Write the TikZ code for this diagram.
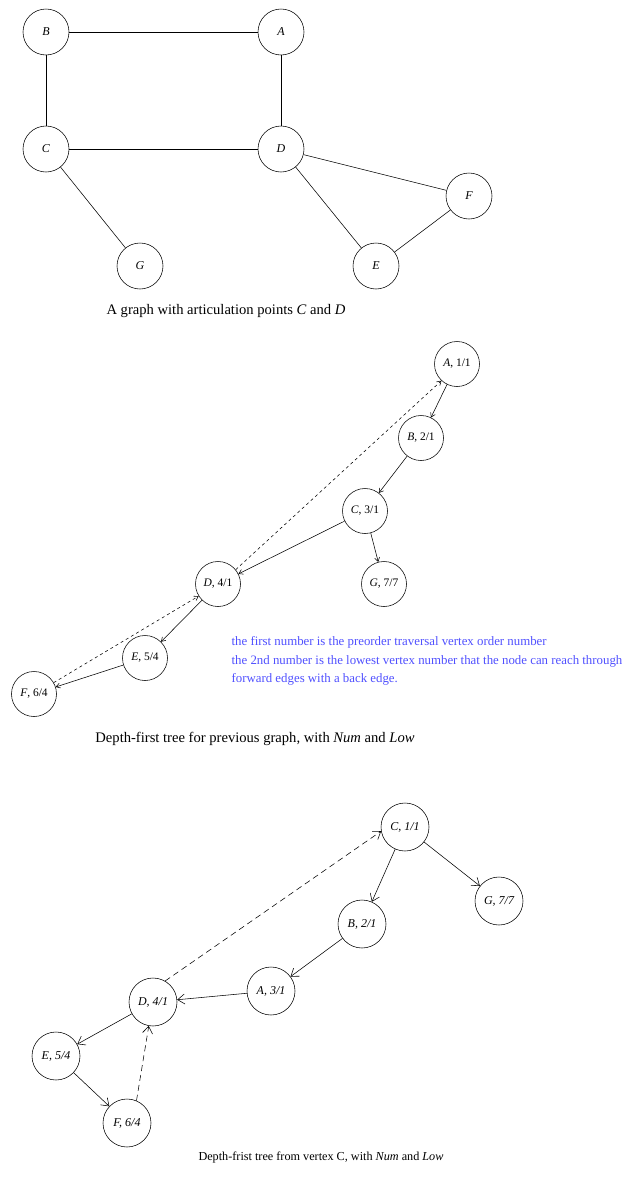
\documentclass[tikz,border=0pt]{standalone}
\usepackage{fontspec}
\setmainfont{Liberation Serif}
\usepackage{xcolor}
\usetikzlibrary{arrows.meta,positioning}

\definecolor{notecolor}{RGB}{80,80,255}

\tikzset{
  vertex/.style={draw, circle, minimum size=46pt, inner sep=0pt, font=\fontsize{12}{14}\selectfont\itshape},
  numlow/.style={draw, circle, minimum size=45pt, inner sep=0pt, font=\fontsize{11.5}{13}\selectfont},
  numlowc/.style={draw, circle, minimum size=48pt, inner sep=0pt, font=\fontsize{12}{14}\selectfont\itshape},
  treeedge/.style={-{Straight Barb[length=4pt,width=5pt]}},
  backedge/.style={treeedge, dashed},
  treeedgec/.style={-{Straight Barb[length=7pt,width=10pt]}},
  backedgec/.style={treeedgec, dash pattern=on 6pt off 4pt},
  caption/.style={font=\fontsize{14.6}{17}\selectfont},
}

\begin{document}
\begin{tikzpicture}[x=1pt, y=-1pt, line width=0.55pt]
\useasboundingbox (0,0) rectangle (628,1181);

% The graph
\node[vertex] (B1) at (46,32) {B};
\node[vertex] (A1) at (281,32) {A};
\node[vertex] (C1) at (46,149) {C};
\node[vertex] (D1) at (281,149) {D};
\node[vertex] (F1) at (469,196) {F};
\node[vertex] (G1) at (140,266) {G};
\node[vertex] (E1) at (376,266) {E};

\draw (B1) -- (A1);
\draw (B1) -- (C1);
\draw (A1) -- (D1);
\draw (C1) -- (D1);
\draw (C1) -- (G1);
\draw (D1) -- (F1);
\draw (D1) -- (E1);
\draw (E1) -- (F1);

\node[caption] (cap1) at (226,311) {A graph with articulation points \textit{C} and \textit{D}};

% Depth-first tree from A
\node[numlow] (A2) at (457,364) {\textit{A}, 1/1};
\node[numlow] (B2) at (421,438) {\textit{B}, 2/1};
\node[numlow] (C2) at (365,511) {\textit{C}, 3/1};
\node[numlow] (D2) at (218,584) {\textit{D}, 4/1};
\node[numlow] (G2) at (384,584) {\textit{G}, 7/7};
\node[numlow] (E2) at (145,658) {\textit{E}, 5/4};
\node[numlow] (F2) at (34,694) {\textit{F}, 6/4};

\draw[treeedge] (A2) -- (B2);
\draw[treeedge] (B2) -- (C2);
\draw[treeedge] (C2) -- (D2);
\draw[treeedge] (C2) -- (G2);
\draw[treeedge] (D2) -- (E2);
\draw[treeedge] (E2) -- (F2);
\draw[backedge] (D2.39) -- (A2.227);
\draw[backedge] (F2.30) -- (D2.212);

\node[anchor=west, align=left, text=notecolor, font=\fontsize{12.85}{18.5}\selectfont] (note) at (228,661)
  {the first number is the preorder traversal vertex order number\\
   the 2nd number is the lowest vertex number that the node can reach through\\
   forward edges with a back edge.};

\node[caption] (cap2) at (255,739) {Depth-first tree for previous graph, with \textit{Num} and \textit{Low}};

% Depth-first tree from C
\node[numlowc] (C3) at (405,827) {C, 1/1};
\node[numlowc] (G3) at (499,901) {G, 7/7};
\node[numlowc] (B3) at (362,924) {B, 2/1};
\node[numlowc] (A3) at (271,991) {A, 3/1};
\node[numlowc] (D3) at (153,1002) {D, 4/1};
\node[numlowc] (E3) at (56,1056) {E, 5/4};
\node[numlowc] (F3) at (127,1123) {F, 6/4};

\draw[treeedgec] (C3) -- (B3);
\draw[treeedgec] (C3) -- (G3);
\draw[treeedgec] (B3) -- (A3);
\draw[treeedgec] (A3) -- (D3);
\draw[treeedgec] (D3) -- (E3);
\draw[treeedgec] (E3) -- (F3);
\draw[backedgec] (D3.60) -- (C3.190);
\draw[backedgec] (F3.67) -- (D3.260);

\node[font=\fontsize{12.2}{14}\selectfont] (cap3) at (321,1157) {Depth-frist tree from vertex C, with \textit{Num} and \textit{Low}};
\end{tikzpicture}
\end{document}
